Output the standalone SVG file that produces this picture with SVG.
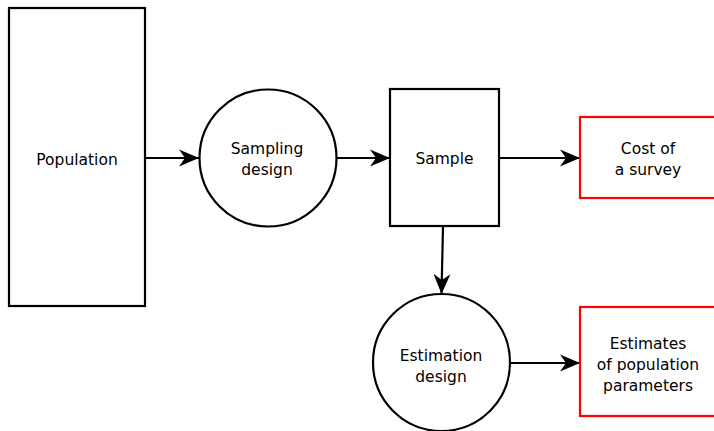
<svg xmlns="http://www.w3.org/2000/svg" width="714" height="431" viewBox="0 0 714 431">
  <style>
    .box { fill: #ffffff; stroke: #000000; stroke-width: 2.2; }
    .out { fill: #ffffff; stroke: #ff0000; stroke-width: 2.2; }
    .edge { fill: none; stroke: #000000; stroke-width: 2.2; marker-end: url(#arrow); }
    text { font-family: "DejaVu Sans", Verdana, sans-serif; font-size: 15.5px; fill: #000000; text-anchor: middle; }
  </style>
  <defs>
    <marker id="arrow" markerUnits="userSpaceOnUse" markerWidth="24" markerHeight="20" viewBox="-22 -10 24 20" refX="0" refY="0" orient="auto">
      <path d="M 0 0 L -20 -8.5 L -14 0 L -20 8.5 Z" fill="#000000"/>
    </marker>
  </defs>
  <rect width="714" height="431" fill="#ffffff"/>

  <g id="connectors">
    <line class="edge" x1="146" y1="158" x2="199" y2="158"/>
    <line class="edge" x1="337" y1="158" x2="390" y2="158"/>
    <line class="edge" x1="499" y1="158" x2="580" y2="158"/>
    <line class="edge" x1="443" y1="227" x2="441.5" y2="294"/>
    <line class="edge" x1="510" y1="363" x2="580" y2="363"/>
  </g>

  <g id="population">
    <rect class="box" x="9" y="8" width="136" height="298"/>
    <text x="77" y="165">Population</text>
  </g>

  <g id="sampling-design">
    <circle class="box" cx="268" cy="158" r="68.5"/>
    <text x="267" y="154">Sampling</text>
    <text x="267" y="175">design</text>
  </g>

  <g id="sample">
    <rect class="box" x="390" y="89" width="109" height="137"/>
    <text x="444.5" y="164">Sample</text>
  </g>

  <g id="cost">
    <rect class="out" x="580" y="117" width="136" height="81"/>
    <text x="648" y="154">Cost of</text>
    <text x="648" y="175">a survey</text>
  </g>

  <g id="estimation-design">
    <circle class="box" cx="441.5" cy="362.5" r="68.5"/>
    <text x="441" y="361">Estimation</text>
    <text x="441" y="382">design</text>
  </g>

  <g id="estimates">
    <rect class="out" x="580" y="307" width="136" height="109"/>
    <text x="648" y="349">Estimates</text>
    <text x="648" y="370">of population</text>
    <text x="648" y="391">parameters</text>
  </g>
</svg>
